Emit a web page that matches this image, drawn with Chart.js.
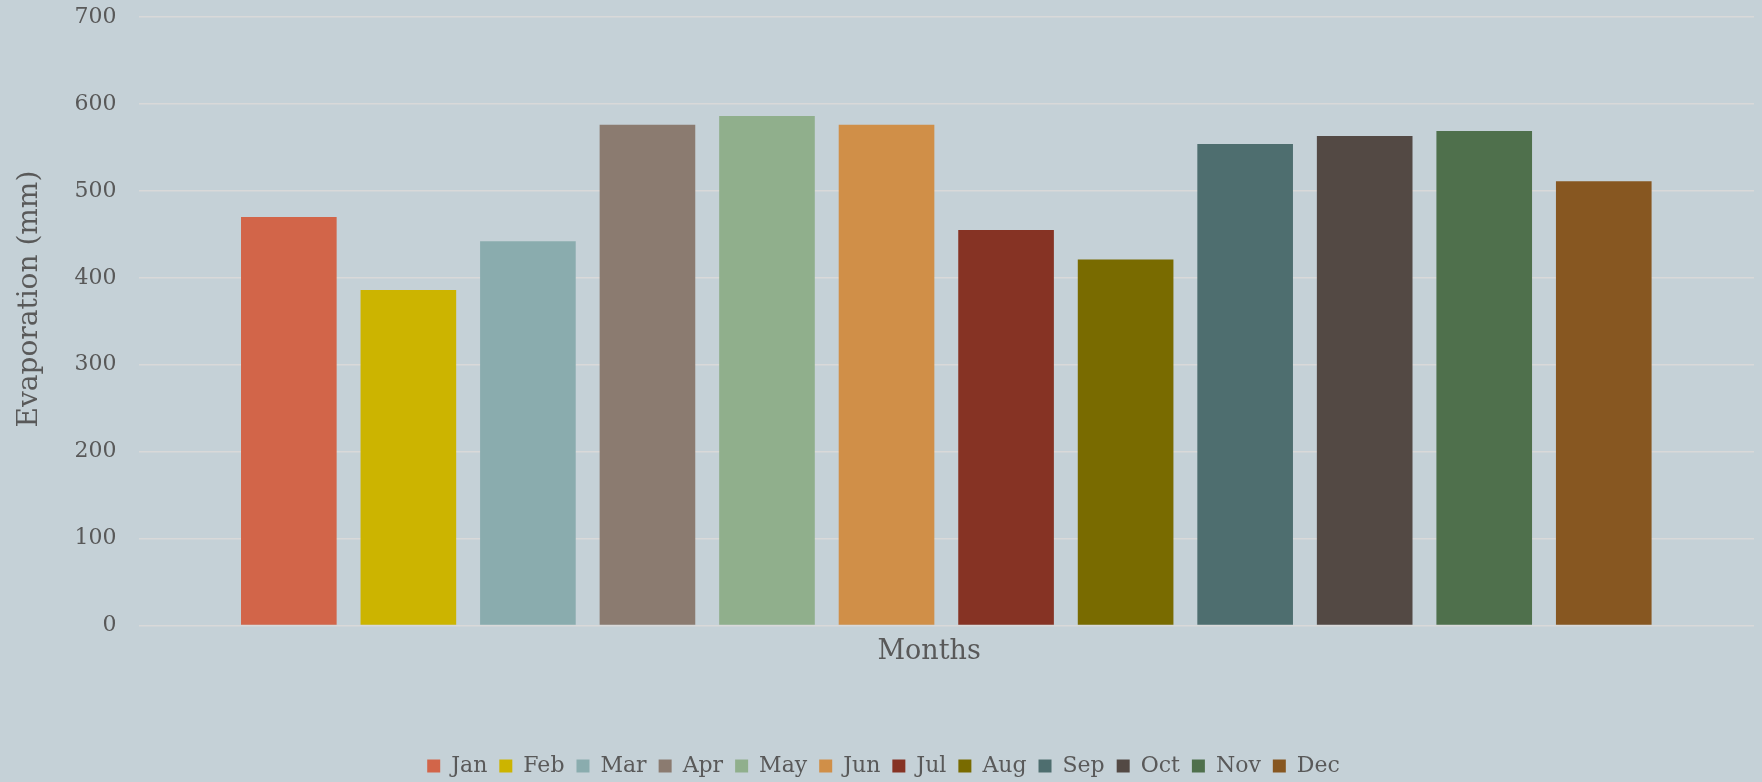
<!DOCTYPE html>
<html>
<head>
<meta charset="utf-8">
<script src="https://cdn.jsdelivr.net/npm/chart.js@4.4.1/dist/chart.umd.min.js"></script>
<style>
    body { margin: 0; background: #c5d1d7; }
    #wrap { width: 1762px; height: 782px; }
</style>
</head>
<body>
<div id="wrap"><canvas id="evapChart" width="1762" height="782"></canvas></div>
<script>
const months = ['Jan', 'Feb', 'Mar', 'Apr', 'May', 'Jun', 'Jul', 'Aug', 'Sep', 'Oct', 'Nov', 'Dec'];
const evaporation = [470, 386, 442, 576, 586, 576, 455, 421, 554, 563, 569, 511];
const barColors = ['#d26549', '#ccb400', '#8aacae', '#8b7b70', '#90af8c', '#d08f48',
    '#863324', '#796b00', '#4e6e6f', '#534944', '#4f704c', '#875721'];
const yTicks = [0, 100, 200, 300, 400, 500, 600, 700];

const textColor = '#595959';
const fontFamily = '"DejaVu Serif", "Liberation Serif", serif';

const datasets = months.map((m, i) => ({
    label: m,
    data: [evaporation[i]],
    backgroundColor: barColors[i],
    borderWidth: 0,
    barPercentage: 0.8,
    categoryPercentage: 0.888
}));

const ctx = document.getElementById('evapChart').getContext('2d');
new Chart(ctx, {
    type: 'bar',
    data: {
        labels: [''],
        datasets: datasets
    },
    options: {
        responsive: false,
        animation: false,
        layout: {
            padding: { top: 17, right: 8, left: 13, bottom: -5 }
        },
        plugins: {
            tooltip: { enabled: false },
            legend: {
                position: 'bottom',
                labels: {
                    color: textColor,
                    font: { family: fontFamily, size: 22 },
                    boxWidth: 13,
                    boxHeight: 13,
                    padding: 12
                }
            }
        },
        scales: {
            x: {
                grid: { display: false },
                border: { display: false },
                ticks: { display: false },
                title: {
                    display: true,
                    // trailing spaces nudge the label a bit left, as in the original
                    text: 'Months    ',
                    color: textColor,
                    font: { family: fontFamily, size: 27 },
                    padding: { top: 2, bottom: 75 }
                }
            },
            y: {
                min: 0,
                max: 700,
                afterBuildTicks: (axis) => {
                    axis.ticks = yTicks.map(v => ({ value: v }));
                },
                // invisible tick marks give the gap between labels and plot
                grid: { color: '#d9d9d9', lineWidth: 1.5, drawTicks: true, tickLength: 20, tickColor: 'rgba(0,0,0,0)' },
                border: { display: false },
                ticks: {
                    color: textColor,
                    font: { family: fontFamily, size: 22 },
                    padding: 2
                },
                title: {
                    display: true,
                    text: '     Evaporation (mm)',
                    color: textColor,
                    font: { family: fontFamily, size: 28 },
                    padding: { top: 0, bottom: 26 }
                }
            }
        }
    }
});
</script>
</body>
</html>
